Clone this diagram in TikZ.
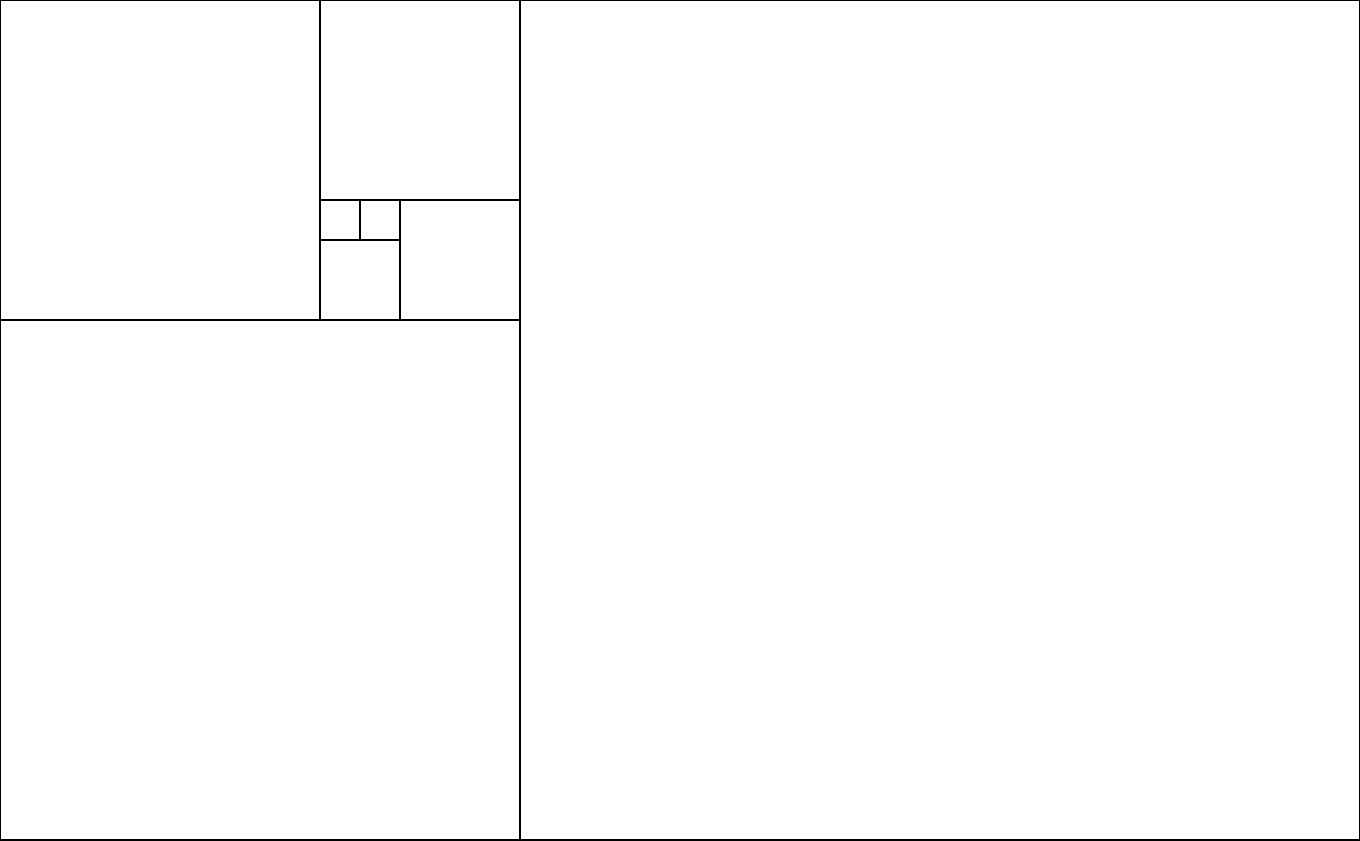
\documentclass[tikz,border=0pt]{standalone}
\begin{document}
\begin{tikzpicture}[x=1cm,y=1cm,sq/.style={draw=black,line width=1.4pt}]
\useasboundingbox (0,0) rectangle (34,21);
\fill[white] (0,0) rectangle (34,21);
\draw[sq] (13,0) rectangle (34,21);
\draw[sq] (0,0) rectangle (13,13);
\draw[sq] (0,13) rectangle (8,21);
\draw[sq] (8,16) rectangle (13,21);
\draw[sq] (10,13) rectangle (13,16);
\draw[sq] (8,13) rectangle (10,15);
\draw[sq] (8,15) rectangle (9,16);
\draw[sq] (9,15) rectangle (10,16);
\end{tikzpicture}
\end{document}
